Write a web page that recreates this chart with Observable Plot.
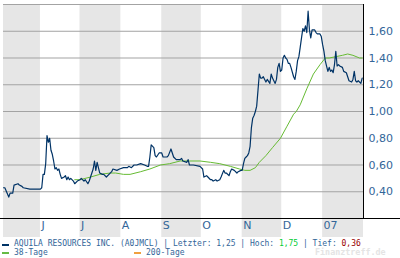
<!DOCTYPE html>
<html><head><meta charset="utf-8">
<script src="https://cdn.jsdelivr.net/npm/d3@7"></script>
<script src="https://cdn.jsdelivr.net/npm/@observablehq/plot@0.6"></script>
<style>
body{margin:0;background:#fff;}
#legend{position:relative;width:400px;height:20px;font-family:"DejaVu Sans Mono",monospace;font-size:8px;color:#336699;overflow:hidden;}
#legend .t{position:absolute;white-space:pre;line-height:8px;}
#legend .k{position:absolute;height:2px;width:7px;}
</style></head><body>
<div id="chart"></div>
<div id="legend">
  <span class="k" style="left:2px;top:6px;background:#003366"></span>
  <span class="t" style="left:14px;top:2px">AQUILA RESOURCES INC. (A0JMCL) | Letzter: 1,25 | Hoch: <span style="color:#00cc33">1,75</span> | Tief: <span style="color:#990000">0,36</span></span>
  <span class="k" style="left:2px;top:14px;background:#66bb44"></span>
  <span class="t" style="left:14px;top:11px">38-Tage</span>
  <span class="k" style="left:134px;top:14px;background:#f0a040"></span>
  <span class="t" style="left:146px;top:11px">200-Tage</span>
  <span class="t" style="left:315px;top:10px;color:#e4e4e4;font-weight:bold;font-size:8.4px">Finanztreff.de</span>
</div>
<script>
const priceDates = ["2006-05-04","2006-05-05","2006-05-08","2006-05-09","2006-05-11","2006-05-12","2006-05-15","2006-05-16","2006-05-18","2006-05-19","2006-05-24","2006-06-01","2006-06-02","2006-06-03","2006-06-04","2006-06-05","2006-06-06","2006-06-07","2006-06-08","2006-06-09","2006-06-10","2006-06-11","2006-06-12","2006-06-13","2006-06-14","2006-06-15","2006-06-16","2006-06-17","2006-06-19","2006-06-20","2006-06-21","2006-06-22","2006-06-23","2006-06-24","2006-06-26","2006-06-27","2006-06-29","2006-07-01","2006-07-02","2006-07-04","2006-07-05","2006-07-07","2006-07-08","2006-07-09","2006-07-11","2006-07-12","2006-07-13","2006-07-14","2006-07-16","2006-07-18","2006-07-19","2006-07-21","2006-07-23","2006-07-25","2006-07-26","2006-07-29","2006-07-31","2006-08-03","2006-08-06","2006-08-07","2006-08-09","2006-08-11","2006-08-13","2006-08-16","2006-08-19","2006-08-21","2006-08-22","2006-08-23","2006-08-24","2006-08-26","2006-08-27","2006-08-28","2006-08-30","2006-09-01","2006-09-02","2006-09-05","2006-09-06","2006-09-08","2006-09-09","2006-09-10","2006-09-12","2006-09-15","2006-09-16","2006-09-17","2006-09-20","2006-09-21","2006-09-22","2006-09-25","2006-09-30","2006-10-02","2006-10-03","2006-10-05","2006-10-06","2006-10-08","2006-10-09","2006-10-10","2006-10-12","2006-10-13","2006-10-15","2006-10-16","2006-10-18","2006-10-19","2006-10-20","2006-10-22","2006-10-23","2006-10-24","2006-10-26","2006-10-28","2006-10-29","2006-10-31","2006-11-01","2006-11-02","2006-11-03","2006-11-04","2006-11-05","2006-11-06","2006-11-07","2006-11-08","2006-11-09","2006-11-10","2006-11-11","2006-11-12","2006-11-13","2006-11-14","2006-11-15","2006-11-16","2006-11-17","2006-11-19","2006-11-20","2006-11-22","2006-11-23","2006-11-24","2006-11-26","2006-11-27","2006-11-28","2006-11-29","2006-11-30","2006-12-01","2006-12-02","2006-12-03","2006-12-04","2006-12-05","2006-12-06","2006-12-07","2006-12-08","2006-12-10","2006-12-11","2006-12-12","2006-12-13","2006-12-14","2006-12-15","2006-12-16","2006-12-17","2006-12-18","2006-12-19","2006-12-20","2006-12-21","2006-12-22","2006-12-23","2006-12-24","2006-12-26","2006-12-27","2006-12-28","2006-12-30","2006-12-31","2007-01-01","2007-01-02","2007-01-03","2007-01-04","2007-01-05","2007-01-06","2007-01-07","2007-01-08","2007-01-09","2007-01-10","2007-01-11","2007-01-12","2007-01-13","2007-01-14","2007-01-16","2007-01-17","2007-01-19","2007-01-20","2007-01-21","2007-01-23","2007-01-24","2007-01-25","2007-01-26","2007-01-27","2007-01-28","2007-01-30","2007-01-31"];
const priceValues = [0.43,0.43,0.36,0.39,0.39,0.45,0.46,0.45,0.44,0.43,0.42,0.42,0.43,0.53,0.53,0.61,0.82,0.77,0.80,0.71,0.68,0.63,0.57,0.58,0.56,0.57,0.53,0.50,0.51,0.52,0.49,0.51,0.49,0.50,0.48,0.46,0.48,0.49,0.50,0.48,0.49,0.46,0.48,0.51,0.57,0.63,0.56,0.62,0.54,0.53,0.53,0.51,0.53,0.55,0.57,0.56,0.57,0.58,0.58,0.59,0.58,0.60,0.60,0.61,0.60,0.59,0.59,0.66,0.75,0.73,0.67,0.66,0.69,0.69,0.66,0.66,0.67,0.72,0.69,0.66,0.64,0.64,0.65,0.63,0.62,0.64,0.60,0.60,0.59,0.57,0.51,0.52,0.51,0.49,0.49,0.48,0.49,0.48,0.49,0.51,0.56,0.54,0.54,0.52,0.55,0.57,0.56,0.54,0.55,0.56,0.56,0.61,0.65,0.66,0.67,0.69,0.74,0.88,0.95,0.97,1.00,1.04,1.16,1.28,1.25,1.25,1.26,1.22,1.24,1.21,1.28,1.25,1.21,1.24,1.33,1.36,1.30,1.31,1.40,1.42,1.40,1.39,1.36,1.36,1.33,1.26,1.24,1.30,1.38,1.41,1.48,1.55,1.62,1.60,1.64,1.59,1.75,1.61,1.55,1.61,1.61,1.59,1.58,1.58,1.56,1.50,1.45,1.38,1.34,1.30,1.33,1.30,1.31,1.29,1.35,1.45,1.34,1.35,1.34,1.33,1.30,1.29,1.26,1.23,1.22,1.24,1.30,1.23,1.22,1.23,1.21,1.25];
const maDates = ["2006-06-27","2006-07-01","2006-07-09","2006-07-16","2006-07-24","2006-07-28","2006-08-03","2006-08-08","2006-08-16","2006-08-23","2006-08-31","2006-09-07","2006-09-15","2006-09-22","2006-09-30","2006-10-08","2006-10-15","2006-10-23","2006-10-30","2006-11-03","2006-11-07","2006-11-11","2006-11-14","2006-11-19","2006-11-24","2006-11-30","2006-12-05","2006-12-10","2006-12-12","2006-12-15","2006-12-20","2006-12-25","2006-12-30","2007-01-03","2007-01-06","2007-01-11","2007-01-16","2007-01-20","2007-01-24","2007-01-29","2007-01-31"];
const maValues = [0.49,0.49,0.51,0.53,0.54,0.54,0.53,0.53,0.55,0.57,0.60,0.61,0.63,0.63,0.63,0.62,0.61,0.59,0.57,0.56,0.56,0.58,0.62,0.67,0.73,0.80,0.89,0.98,1.00,1.05,1.17,1.28,1.35,1.40,1.40,1.41,1.42,1.43,1.42,1.40,1.40];
const bandStarts = ["2006-05-04","2006-07-01","2006-09-01","2006-11-01","2007-01-01"];
const bandEnds = ["2006-06-01","2006-08-01","2006-10-01","2006-12-01","2007-02-01"];
const monthDates = ["2006-06-01","2006-07-01","2006-08-01","2006-09-01","2006-10-01","2006-11-01","2006-12-01","2007-01-01"];
const monthLabels = ["J","J","A","S","O","N","D","07"];
const yTicks = [0.4,0.6,0.8,1.0,1.2,1.4,1.6];
const gridValues = [0.4,0.6,0.8,1.0,1.2,1.4,1.6,1.8];
const xDomain = ["2006-05-04","2007-02-01"];
const yDomain = [0.2,1.8];

const parse = d3.utcParse("%Y-%m-%d");
const price = priceDates.map((d,i)=>({date:parse(d), value:priceValues[i]}));
const ma = maDates.map((d,i)=>({date:parse(d), value:maValues[i]}));
const bands = bandStarts.map((d,i)=>({start:parse(d), end:parse(bandEnds[i])}));
const months = monthDates.map((d,i)=>({date:parse(d), label:monthLabels[i]}));
const xd = xDomain.map(parse);

const chart = Plot.plot({
  width: 400, height: 238,
  marginTop: 4, marginBottom: 20, marginLeft: 3, marginRight: 37,
  style: {fontFamily: "DejaVu Sans, Verdana, sans-serif", fontSize: "11px", color: "#336699", background: "white", overflow: "visible"},
  x: {type: "utc", domain: xd, axis: null},
  y: {domain: yDomain, axis: null},
  marks: [
    Plot.rect(bands, {x1: "start", x2: "end", fill: "#e6e6e6", insetBottom: -19}),
    Plot.ruleY(gridValues, {stroke: "#a3a3a3", strokeWidth: 1}),
    Plot.line(ma, {x: "date", y: "value", stroke: "#66bb33", strokeWidth: 1}),
    Plot.line(price, {x: "date", y: "value", stroke: "#003366", strokeWidth: 1.2}),
    Plot.axisY({anchor: "right", label: null, ticks: yTicks, tickSize: 0, tickPadding: 5, tickFormat: d => d.toFixed(2).replace(".", ","), fill: "#336699"}),
    Plot.text(months, {x: "date", text: "label", frameAnchor: "bottom", dy: 10, dx: 1, textAnchor: "start", fill: "#336699"}),
    Plot.ruleX([xd[1]], {stroke: "black"}),
    Plot.ruleY([yDomain[0]], {stroke: "black", insetLeft: -3, insetRight: -37})
  ]
});
document.getElementById("chart").appendChild(chart);
</script>
</body></html>
